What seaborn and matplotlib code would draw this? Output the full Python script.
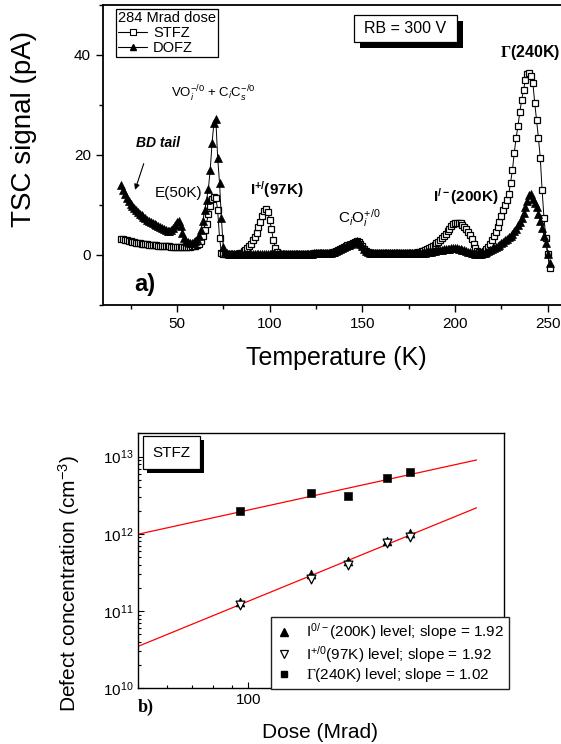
import numpy as np
import pandas as pd
import matplotlib
matplotlib.use("Agg")
import matplotlib.pyplot as plt
from matplotlib.lines import Line2D
from matplotlib.patches import Rectangle
from matplotlib.ticker import MultipleLocator, FixedLocator, FuncFormatter, NullFormatter, LogLocator
import seaborn as sns

# --- panel a: TSC spectra after 284 Mrad, RB = 300 V ---
temp_k = [
    20, 21, 22, 23, 24, 25, 26, 27, 28, 29,
    30, 31, 32, 33, 34, 35, 36, 37, 38, 39,
    40, 41, 42, 43, 44, 45, 46, 47, 48, 49,
    50, 51, 52, 53, 54, 55, 56, 57, 58, 59,
    60, 61, 62, 63, 64, 65, 66, 67, 68, 69,
    70, 71, 72, 73, 74, 75, 76, 77, 78, 79,
    80, 81, 82, 83, 84, 85, 86, 87, 88, 89,
    90, 91, 92, 93, 94, 95, 96, 97, 98, 99,
    100, 101, 102, 103, 104, 105, 106, 107, 108, 109,
    110, 111, 112, 113, 114, 115, 116, 117, 118, 119,
    120, 121, 122, 123, 124, 125, 126, 127, 128, 129,
    130, 131, 132, 133, 134, 135, 136, 137, 138, 139,
    140, 141, 142, 143, 144, 145, 146, 147, 148, 149,
    150, 151, 152, 153, 154, 155, 156, 157, 158, 159,
    160, 161, 162, 163, 164, 165, 166, 167, 168, 169,
    170, 171, 172, 173, 174, 175, 176, 177, 178, 179,
    180, 181, 182, 183, 184, 185, 186, 187, 188, 189,
    190, 191, 192, 193, 194, 195, 196, 197, 198, 199,
    200, 201, 202, 203, 204, 205, 206, 207, 208, 209,
    210, 211, 212, 213, 214, 215, 216, 217, 218, 219,
    220, 221, 222, 223, 224, 225, 226, 227, 228, 229,
    230, 231, 232, 233, 234, 235, 236, 237, 238, 239,
    240, 241, 242, 243, 244, 245, 246, 247, 248, 249, 250, 251,
]

stfz_signal = [
    3.3, 3.2, 3.1, 3.0, 2.9, 2.8, 2.7, 2.6, 2.5, 2.5,
    2.4, 2.3, 2.3, 2.2, 2.2, 2.1, 2.1, 2.0, 2.0, 2.0,
    1.9, 1.9, 1.9, 1.8, 1.8, 1.8, 1.8, 1.7, 1.7, 1.7,
    1.7, 1.7, 1.7, 1.7, 1.7, 1.7, 1.7, 1.7, 1.8, 1.8,
    1.9, 2.0, 2.3, 2.9, 3.8, 5.0, 6.3, 8.3, 9.8, 11.2,
    11.7, 11.5, 9.0, 3.5, 0.5, 0.3, 0.2, 0.2, 0.2, 0.2,
    0.2, 0.2, 0.2, 0.3, 0.4, 0.5, 0.8, 1.1, 1.5, 1.9,
    2.3, 3.0, 3.7, 4.4, 5.6, 6.7, 7.9, 8.8, 9.3, 8.6,
    7.1, 5.3, 3.1, 1.4, 0.6, 0.3, 0.3, 0.3, 0.3, 0.3,
    0.3, 0.3, 0.3, 0.3, 0.3, 0.3, 0.3, 0.3, 0.3, 0.3,
    0.3, 0.3, 0.3, 0.3, 0.4, 0.4, 0.4, 0.4, 0.4, 0.4,
    0.4, 0.4, 0.5, 0.5, 0.6, 0.7, 0.9, 1.1, 1.3, 1.5,
    1.7, 1.8, 2.0, 2.1, 2.3, 2.5, 2.7, 2.8, 2.7, 2.3,
    1.8, 1.3, 0.9, 0.6, 0.4, 0.4, 0.4, 0.4, 0.4, 0.4,
    0.4, 0.4, 0.4, 0.4, 0.4, 0.4, 0.4, 0.4, 0.4, 0.4,
    0.4, 0.4, 0.4, 0.4, 0.4, 0.4, 0.4, 0.5, 0.5, 0.5,
    0.6, 0.7, 0.8, 0.9, 1.1, 1.3, 1.5, 1.7, 1.9, 2.1,
    2.4, 2.7, 3.0, 3.4, 3.8, 4.3, 4.8, 5.3, 5.8, 6.2,
    6.4, 6.5, 6.5, 6.4, 6.1, 5.7, 5.3, 4.7, 4.0, 3.3,
    2.3, 1.5, 0.9, 0.6, 0.5, 0.5, 0.8, 1.2, 1.7, 2.3,
    3.0, 3.8, 4.6, 5.6, 6.7, 7.8, 9.0, 10.0, 11.0, 12.2,
    14.5, 17.0, 20.5, 23.5, 25.8, 28.7, 31.0, 33.0, 35.1, 36.3,
    36.4, 35.8, 34.5, 30.5, 27.0, 23.5, 19.5, 13.0, 7.5, 3.5, 0.3, -2.5,
]

dofz_signal = [
    14.0, 13.0, 12.2, 11.5, 10.8, 10.3, 9.8, 9.4, 9.0, 8.6,
    8.3, 8.0, 7.7, 7.4, 7.1, 6.9, 6.6, 6.4, 6.2, 6.0,
    5.8, 5.6, 5.4, 5.3, 5.1, 4.9, 4.8, 5.0, 5.4, 6.0,
    6.6, 6.8, 5.8, 4.5, 3.5, 2.9, 2.6, 2.5, 2.5, 2.6,
    2.8, 3.2, 3.9, 5.0, 6.8, 9.0, 11.0, 13.3, 17.0, 22.5,
    26.5, 27.3, 19.5, 14.5, 7.5, 1.7, 0.7, 0.4, 0.3, 0.3,
    0.3, 0.3, 0.3, 0.3, 0.3, 0.3, 0.3, 0.3, 0.3, 0.3,
    0.3, 0.3, 0.3, 0.3, 0.3, 0.3, 0.3, 0.3, 0.3, 0.3,
    0.3, 0.3, 0.3, 0.3, 0.3, 0.3, 0.3, 0.3, 0.3, 0.3,
    0.3, 0.3, 0.3, 0.3, 0.3, 0.3, 0.3, 0.3, 0.3, 0.3,
    0.3, 0.3, 0.3, 0.3, 0.4, 0.4, 0.4, 0.4, 0.4, 0.4,
    0.4, 0.4, 0.5, 0.5, 0.6, 0.7, 0.9, 1.1, 1.3, 1.5,
    1.7, 1.8, 2.0, 2.1, 2.3, 2.5, 2.7, 2.8, 2.7, 2.3,
    1.8, 1.3, 0.9, 0.6, 0.4, 0.4, 0.4, 0.4, 0.4, 0.4,
    0.4, 0.4, 0.4, 0.4, 0.4, 0.4, 0.4, 0.4, 0.4, 0.4,
    0.4, 0.4, 0.4, 0.4, 0.4, 0.4, 0.4, 0.4, 0.4, 0.4,
    0.4, 0.4, 0.4, 0.5, 0.5, 0.6, 0.6, 0.7, 0.8, 0.9,
    1.0, 1.0, 1.1, 1.1, 1.2, 1.2, 1.3, 1.3, 1.4, 1.4,
    1.4, 1.4, 1.3, 1.2, 1.1, 1.0, 0.9, 0.7, 0.6, 0.5,
    0.4, 0.3, 0.2, 0.2, 0.3, 0.4, 0.5, 0.6, 0.8, 1.0,
    1.2, 1.4, 1.6, 1.8, 2.1, 2.4, 2.7, 3.0, 3.3, 3.6,
    3.9, 4.3, 4.8, 5.3, 6.0, 6.7, 7.5, 8.4, 9.6, 10.9,
    12.0, 12.2, 11.2, 10.5, 9.7, 8.2, 6.9, 5.5, 3.8, 2.4, 0.3, -1.6,
]

# --- panel b: STFZ defect concentrations vs dose ---
dose_mrad = [95, 148, 187, 239, 276]
conc_i200 = [1.32e11, 3.05e11, 4.40e11, 7.96e11, 1.02e12]
conc_i97 = [1.19e11, 2.63e11, 3.90e11, 7.66e11, 9.07e11]
conc_gamma = [1.96e12, 3.38e12, 3.12e12, 5.22e12, 6.24e12]
fit_dose = [50, 420]

sns.set_style("ticks")
plt.rcParams["font.family"] = ["Liberation Sans", "DejaVu Sans"]
plt.rcParams["mathtext.fontset"] = "custom"
plt.rcParams["mathtext.rm"] = "Liberation Sans"
plt.rcParams["mathtext.it"] = "Liberation Sans:italic"
plt.rcParams["mathtext.bf"] = "Liberation Sans:bold"
plt.rcParams["mathtext.tt"] = "Liberation Serif"
plt.rcParams["mathtext.cal"] = "Liberation Serif:bold"
plt.rcParams["text.color"] = "black"
plt.rcParams["axes.labelcolor"] = "black"
plt.rcParams["xtick.color"] = "black"
plt.rcParams["ytick.color"] = "black"

fig = plt.figure(figsize=(5.61, 7.44), dpi=100)
W, H = 561, 744


def shadow_box(left, top, right, bottom, text, size, off):
    # box given in pixels from the top-left corner of the figure
    x0, x1 = left / W, right / W
    y0, y1 = 1 - bottom / H, 1 - top / H
    fig.add_artist(Rectangle((x0 + off / W, y0 - off / H), x1 - x0, y1 - y0,
                             transform=fig.transFigure, facecolor="black", lw=0, zorder=5))
    fig.add_artist(Rectangle((x0, y0), x1 - x0, y1 - y0, transform=fig.transFigure,
                             facecolor="white", edgecolor="black", lw=0.9, zorder=6))
    fig.text((x0 + x1) / 2, (y0 + y1) / 2, text, fontsize=size, ha="center", va="center", zorder=7)


# ---------------- panel a ----------------
ax1 = fig.add_axes([102.7 / W, 1 - 305 / H, 463.5 / W, 300 / H])
df_a = pd.DataFrame({"T": temp_k, "STFZ": stfz_signal, "DOFZ": dofz_signal})

sns.lineplot(data=df_a, x="T", y="STFZ", ax=ax1, sort=False, estimator=None,
             color="black", lw=0.7, marker="s", markersize=4.2,
             markerfacecolor="white", markeredgecolor="black", markeredgewidth=0.9)
sns.lineplot(data=df_a, x="T", y="DOFZ", ax=ax1, sort=False, estimator=None,
             color="black", lw=0.7, marker="^", markersize=5.2,
             markerfacecolor="black", markeredgecolor="black", markeredgewidth=0.5)

ax1.set_xlim(10, 260)
ax1.set_ylim(-10, 50)
ax1.xaxis.set_major_locator(MultipleLocator(50))
ax1.xaxis.set_minor_locator(MultipleLocator(25))
ax1.yaxis.set_major_locator(MultipleLocator(20))
ax1.yaxis.set_minor_locator(MultipleLocator(10))
ax1.tick_params(which="both", direction="out", labelsize=11, width=1.0)
ax1.tick_params(which="major", length=5)
ax1.tick_params(which="minor", length=3)
for sp in ax1.spines.values():
    sp.set_linewidth(1.3)
    sp.set_color("black")

ax1.set_xlabel("Temperature (K)", fontsize=18)
ax1.set_ylabel("TSC signal (pA)", fontsize=20)
ax1.xaxis.set_label_coords(0.503, -0.135)
ax1.yaxis.set_label_coords(-0.142, 0.587)

leg_handles = [
    Line2D([], [], color="black", lw=0.8, marker="s", ms=4, mfc="white", mec="black", mew=0.8),
    Line2D([], [], color="black", lw=0.8, marker="^", ms=5, mfc="black", mec="black"),
]
leg1 = ax1.legend(leg_handles, ["STFZ", "DOFZ"], title="284 Mrad dose",
                  loc="upper left", bbox_to_anchor=(116 / W, 1 - 9 / H), bbox_transform=fig.transFigure,
                  fontsize=10.5, title_fontsize=10.5, frameon=True, fancybox=False,
                  edgecolor="black", framealpha=1, handlelength=2.0, handletextpad=0.4,
                  borderpad=0.15, labelspacing=0.05, borderaxespad=0)
leg1.get_frame().set_linewidth(0.9)
leg1._legend_box.align = "left"

ax1.text(39.6, 22.4, "BD tail", fontsize=10, fontweight="bold", fontstyle="italic", ha="center", va="center")
ax1.annotate("", xy=(27, 12.5), xytext=(32.6, 18.8),
             arrowprops=dict(arrowstyle="-|>", color="black", lw=0.8, mutation_scale=8))
ax1.text(50.9, 12.4, "E(50K)", fontsize=11, ha="center", va="center")
ax1.text(69.6, 32.2, r"VO$_i^{-/0}$ + C$_i$C$_s^{-/0}$", fontsize=9.5, ha="center", va="center")
ax1.text(104, 13, r"I$^{\mathbf{+/}}$(97K)", fontsize=11, fontweight="bold", ha="center", va="center")
ax1.text(148.4, 7.4, r"C$_i$O$_i^{+/0}$", fontsize=11, ha="center", va="center")
ax1.text(206, 11.6, r"I$^{\mathbf{/-}}$(200K)", fontsize=11, fontweight="bold", ha="center", va="center")
ax1.text(240.6, 40.4, r"$\mathcal{\Gamma}$(240K)", fontsize=11.5, fontweight="bold", ha="center", va="center")
ax1.text(32.8, -6, "a)", fontsize=17, fontweight="bold", ha="center", va="center")

shadow_box(354, 15, 457, 42, "RB = 300 V", 11.5, 6)

# ---------------- panel b ----------------
ax2 = fig.add_axes([138.3 / W, 1 - 688.3 / H, 366 / W, 255 / H])
ax2.set_xscale("log")
ax2.set_yscale("log")

fit_rows = []
for name, conc in [("upper", conc_gamma), ("lower", conc_i200 + conc_i97)]:
    xs = np.log10(dose_mrad * (len(conc) // len(dose_mrad)))
    slope, icpt = np.polyfit(xs, np.log10(conc), 1)
    for d in fit_dose:
        fit_rows.append({"fit": name, "dose": d, "conc": 10 ** (icpt + slope * np.log10(d))})
df_fit = pd.DataFrame(fit_rows)
sns.lineplot(data=df_fit, x="dose", y="conc", units="fit", estimator=None, color="red", lw=0.9, ax=ax2)

sns.scatterplot(x=dose_mrad, y=conc_gamma, marker="s", s=30, color="black", edgecolor="black", ax=ax2, zorder=4)
sns.scatterplot(x=dose_mrad, y=conc_i200, marker="^", s=40, color="black", edgecolor="black", ax=ax2, zorder=4)
sns.scatterplot(x=dose_mrad, y=conc_i97, marker="v", s=40, color="white", edgecolor="black",
                linewidth=0.9, ax=ax2, zorder=5)

ax2.set_xlim(50, 500)
ax2.set_ylim(1e10, 2e13)
ax2.xaxis.set_major_locator(FixedLocator([100]))
ax2.xaxis.set_major_formatter(FuncFormatter(lambda v, p: f"{v:g}"))
ax2.xaxis.set_minor_locator(LogLocator(base=10, subs=np.arange(2, 10)))
ax2.xaxis.set_minor_formatter(NullFormatter())
ax2.yaxis.set_major_locator(LogLocator(base=10, numticks=10))
ax2.yaxis.set_minor_locator(LogLocator(base=10, subs=np.arange(2, 10), numticks=20))
ax2.yaxis.set_minor_formatter(NullFormatter())
ax2.tick_params(which="both", direction="in", labelsize=11, width=0.8, top=False, right=False)
ax2.tick_params(which="major", length=4)
ax2.tick_params(which="minor", length=2.5)
for sp in ax2.spines.values():
    sp.set_linewidth(1.0)
    sp.set_color("black")

ax2.set_xlabel("Dose (Mrad)", fontsize=15)
ax2.set_ylabel(r"Defect concentration (cm$^{-3}$)", fontsize=15)
ax2.xaxis.set_label_coords(0.496, -0.135)
ax2.yaxis.set_label_coords(-0.154, 0.413)

leg_b_handles = [
    Line2D([], [], ls="none", marker="^", ms=6, mfc="black", mec="black"),
    Line2D([], [], ls="none", marker="v", ms=6, mfc="white", mec="black", mew=0.9),
    Line2D([], [], ls="none", marker="s", ms=5, mfc="black", mec="black"),
]
leg_b_labels = [
    r"I$^{0/-}$(200K) level; slope = 1.92",
    r"I$^{+/0}$(97K) level; slope = 1.92",
    r"$\mathtt{\Gamma}$(240K) level; slope = 1.02",
]
leg2 = ax2.legend(leg_b_handles, leg_b_labels, loc="upper left",
                  bbox_to_anchor=(270.7 / W, 1 - 616.7 / H), bbox_transform=fig.transFigure,
                  fontsize=11, frameon=True, fancybox=False, edgecolor="#222222", framealpha=1,
                  handlelength=1.2, handletextpad=0.8, borderpad=0.3, labelspacing=0.1,
                  borderaxespad=0)
leg2.get_frame().set_linewidth(1.0)

shadow_box(143.3, 436, 200, 469.3, "STFZ", 11, 4)
fig.text(138 / W, 1 - 707 / H, "b)", fontsize=13, fontweight="bold", family="Liberation Serif",
         ha="left", va="center")

fig.savefig("out.png", dpi=100)
